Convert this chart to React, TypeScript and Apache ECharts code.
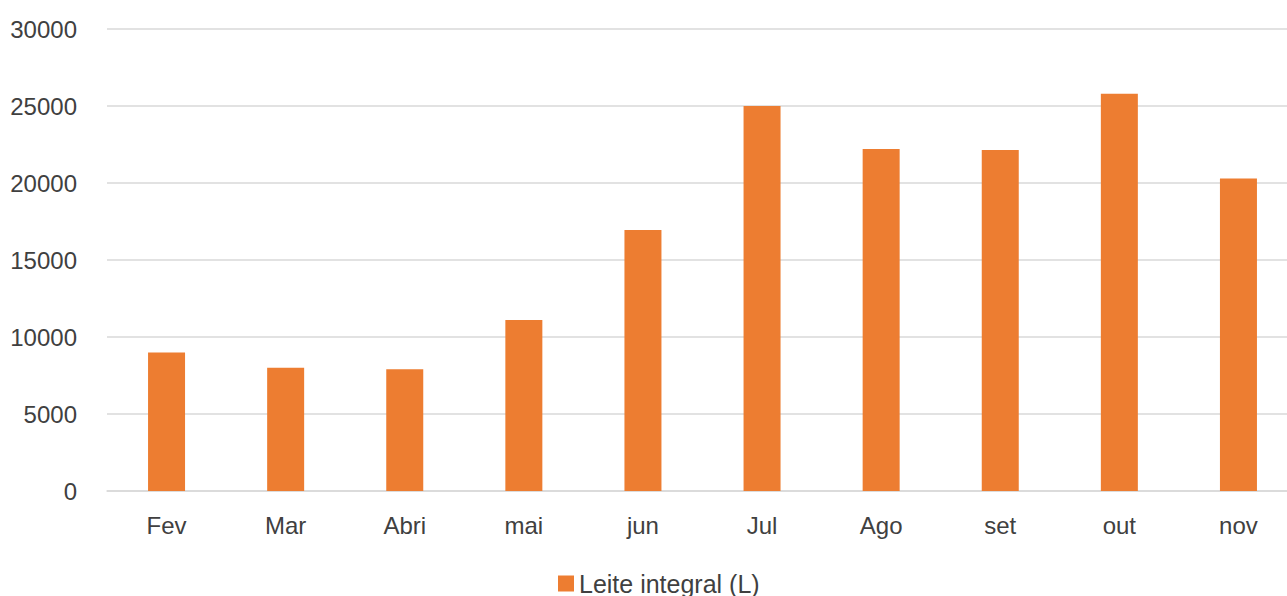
import React, { useEffect, useRef } from "react";
import * as echarts from "echarts";

const categories = ["Fev", "Mar", "Abri", "mai", "jun", "Jul", "Ago", "set", "out", "nov"];
const leiteIntegral = [9000, 8000, 7900, 11100, 16950, 25000, 22200, 22150, 25800, 20300];
const seriesName = "Leite integral (L)";

export default function App() {
  const ref = useRef<HTMLDivElement>(null);
  useEffect(() => {
    document.body.style.margin = "0";
    if (!ref.current) return;
    const chart = echarts.init(ref.current, null, { renderer: "svg" });
    const font = "'Liberation Sans', Arial, sans-serif";
    const textColor = "#404040";
    chart.setOption({
      animation: false,
      backgroundColor: "#ffffff",
      grid: { left: 107, top: 29, bottom: 105, right: 0, containLabel: false },
      legend: {
        data: [seriesName],
        left: 553,
        top: 566,
        itemWidth: 16,
        itemHeight: 16,
        itemGap: 10,
        icon: "rect",
        textStyle: { color: textColor, fontSize: 25, fontFamily: font },
      },
      xAxis: {
        type: "category",
        data: categories,
        axisLine: { show: true, lineStyle: { color: "#d9d9d9", width: 1.5 } },
        axisTick: { show: false },
        axisLabel: { color: textColor, fontSize: 24, fontFamily: font, margin: 22 },
      },
      yAxis: {
        type: "value",
        min: 0,
        max: 30000,
        interval: 5000,
        axisLine: { show: false },
        axisTick: { show: false },
        splitLine: { lineStyle: { color: "#d9d9d9", width: 1.5 } },
        axisLabel: {
          color: textColor,
          fontSize: 24,
          fontFamily: font,
          margin: 30,
          formatter: (v: number) => String(v),
        },
      },
      series: [
        {
          name: seriesName,
          type: "bar",
          data: leiteIntegral,
          barWidth: 37,
          itemStyle: { color: "#ED7D31" },
        },
      ],
    });
    return () => chart.dispose();
  }, []);
  return (
    <div
      style={{
        position: "absolute",
        left: 0,
        top: 0,
        width: 1287,
        height: 596,
        overflow: "hidden",
      }}
    >
      <div ref={ref} style={{ width: 1298, height: 596 }} />
    </div>
  );
}
